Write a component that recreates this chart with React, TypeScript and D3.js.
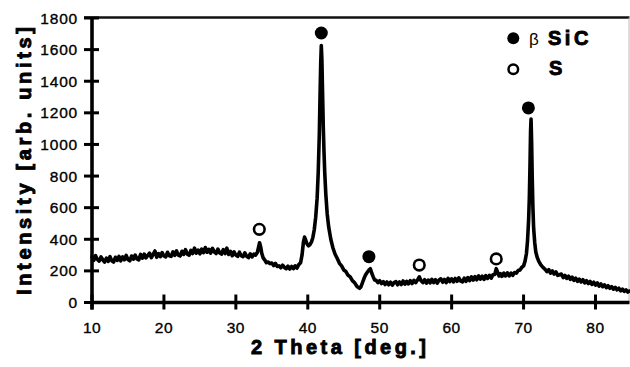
import React from "react";
import * as d3 from "d3";

// ---- data (2θ in degrees, intensity in arb. units) ----
const scanLowAngle: [number, number][] = [
  [10.0, 290], [10.25, 266], [10.5, 296], [10.75, 272], [11.0, 262], [11.25, 288], [11.5, 270], [11.75, 256],
  [12.0, 280], [12.25, 260], [12.5, 290], [12.75, 264], [13.0, 256], [13.25, 286], [13.5, 266], [13.75, 292],
  [14.0, 264], [14.25, 288], [14.5, 270], [14.75, 298], [15.0, 272], [15.25, 264], [15.5, 294], [15.75, 274],
  [16.0, 300], [16.25, 276], [16.5, 270], [16.75, 304], [17.0, 280], [17.25, 306], [17.5, 282], [17.75, 298],
  [18.0, 312], [18.25, 284], [18.5, 304], [18.75, 326], [19.0, 286], [19.25, 310], [19.5, 290], [19.75, 316],
  [20.0, 294], [20.25, 288], [20.5, 318], [20.75, 296], [21.0, 292], [21.25, 320], [21.5, 298], [21.75, 326],
  [22.0, 300], [22.25, 294], [22.5, 324], [22.75, 304], [23.0, 334], [23.25, 306], [23.5, 300], [23.75, 330],
  [24.0, 310], [24.25, 344], [24.5, 312], [24.75, 332], [25.0, 308], [25.25, 338], [25.5, 316], [25.75, 348],
  [26.0, 318], [26.25, 336], [26.5, 312], [26.75, 342], [27.0, 320], [27.25, 310], [27.5, 338], [27.75, 314],
  [28.0, 306], [28.25, 334], [28.5, 310], [28.75, 344], [29.0, 304], [29.25, 324], [29.5, 296], [29.75, 320],
  [30.0, 300], [30.25, 292], [30.5, 318], [30.75, 296], [31.0, 290], [31.25, 314], [31.5, 292], [31.75, 284],
  [32.0, 308], [32.25, 288], [32.5, 306], [32.75, 300],
];

const scanSiC111: [number, number][] = [
  [33.0, 318], [33.15, 348], [33.3, 378], [33.45, 352], [33.6, 312], [33.8, 282], [34.0, 270], [34.25, 252],
  [34.5, 256], [34.75, 246], [35.0, 250], [35.25, 234], [35.5, 248], [35.75, 228], [36.0, 232], [36.25, 220],
  [36.5, 236], [36.75, 222], [37.0, 214], [37.25, 230], [37.5, 212], [37.75, 228], [38.0, 214], [38.25, 232],
  [38.5, 218], [38.75, 240], [39.0, 252], [39.2, 300], [39.4, 384], [39.55, 414], [39.7, 396], [39.9, 370],
  [40.1, 358], [40.3, 366], [40.5, 382], [40.7, 410], [40.9, 460], [41.1, 540], [41.3, 660], [41.45, 820],
  [41.6, 1060], [41.7, 1300], [41.8, 1520], [41.88, 1625], [41.96, 1540], [42.05, 1340], [42.15, 1120],
  [42.25, 960], [42.35, 830], [42.5, 690], [42.7, 560], [42.9, 480], [43.2, 400], [43.5, 345], [43.8, 305],
  [44.1, 278], [44.4, 248], [44.7, 232], [45.0, 206], [45.3, 196], [45.6, 172], [45.9, 162], [46.2, 138],
  [46.5, 126], [46.8, 104], [47.0, 96], [47.2, 90],
];

const scanMid: [number, number][] = [
  [47.4, 100], [47.6, 125], [47.8, 150], [48.0, 172], [48.25, 190], [48.5, 205], [48.7, 214], [48.9, 185],
  [49.1, 162], [49.3, 142], [49.5, 140], [49.75, 126], [50.0, 138], [50.25, 120], [50.5, 132], [50.75, 114],
  [51.0, 130], [51.25, 112], [51.5, 128], [51.75, 110], [52.0, 126], [52.25, 132], [52.5, 112], [52.75, 130],
  [53.0, 114], [53.25, 136], [53.5, 116], [53.75, 134], [54.0, 118], [54.25, 138], [54.5, 120], [54.75, 140],
  [55.0, 126], [55.25, 142], [55.5, 162], [55.75, 138], [56.0, 126], [56.25, 144], [56.5, 122], [56.75, 142],
  [57.0, 124], [57.25, 146], [57.5, 126], [57.75, 144], [58.0, 122], [58.25, 142], [58.5, 150], [58.75, 128],
  [59.0, 146], [59.25, 126], [59.5, 152], [59.75, 132], [60.0, 150], [60.25, 130], [60.5, 152], [60.75, 134],
  [61.0, 156], [61.25, 136], [61.5, 130], [61.75, 154], [62.0, 134], [62.25, 158], [62.5, 138], [62.75, 162],
  [63.0, 142], [63.25, 164], [63.5, 144], [63.75, 168], [64.0, 148], [64.25, 166], [64.5, 146], [64.75, 170],
  [65.0, 152], [65.25, 172], [65.5, 154], [65.75, 176], [66.0, 178], [66.2, 214], [66.4, 190], [66.6, 168],
  [66.8, 182], [67.0, 166], [67.25, 186], [67.5, 168], [67.75, 188], [68.0, 168], [68.25, 186], [68.5, 172],
  [68.75, 190], [69.0, 186], [69.25, 202], [69.5, 206], [69.75, 222],
];

const scanSiC220: [number, number][] = [
  [70.0, 232], [70.2, 260], [70.4, 310], [70.55, 390], [70.7, 520], [70.8, 660], [70.9, 880], [70.97, 1080],
  [71.04, 1160], [71.12, 1020], [71.2, 800], [71.3, 600], [71.4, 470], [71.55, 380], [71.7, 320], [71.9, 285],
  [72.1, 262], [72.4, 238], [72.7, 222], [73.0, 210],
];

const scanHighAngle: [number, number][] = [
  [73.25, 196], [73.5, 208], [73.75, 186], [74.0, 200], [74.25, 180], [74.5, 194], [74.75, 172], [75.0, 176],
  [75.25, 180], [75.5, 158], [75.75, 172], [76.0, 152], [76.25, 166], [76.5, 146], [76.75, 160], [77.0, 140],
  [77.25, 154], [77.5, 134], [77.75, 148], [78.0, 130], [78.25, 144], [78.5, 124], [78.75, 138], [79.0, 120],
  [79.25, 134], [79.5, 114], [79.75, 128], [80.0, 110], [80.25, 124], [80.5, 104], [80.75, 118], [81.0, 100],
  [81.25, 112], [81.5, 94], [81.75, 106], [82.0, 90], [82.25, 100], [82.5, 84], [82.75, 96], [83.0, 80],
  [83.25, 90], [83.5, 74], [83.75, 84], [84.0, 70], [84.25, 80], [84.5, 66], [84.7, 72],
];

// peak markers: filled = β-SiC, open = S
const betaSiCMarkers: [number, number][] = [[41.88, 1705], [48.5, 290], [70.67, 1231]];
const sMarkers: [number, number][] = [[33.26, 463], [55.5, 237], [66.2, 276]];

const xTicks = [10, 20, 30, 40, 50, 60, 70, 80];
const yTicks = [0, 200, 400, 600, 800, 1000, 1200, 1400, 1600, 1800];
const xTitle = "2 Theta [deg.]";
const yTitle = "Intensity [arb. units]";
const legendLabels = ["SiC", "S"];

const W = 630;
const H = 367;
const FONT = "'Liberation Sans', Arial, Helvetica, sans-serif";

export default function App() {
  const scan = [...scanLowAngle, ...scanSiC111, ...scanMid, ...scanSiC220, ...scanHighAngle];
  const x = d3.scaleLinear().domain([10, 84.7]).range([92, 629.3]);
  const y = d3.scaleLinear().domain([0, 1800]).range([302.5, 18]);
  const line = d3
    .line<[number, number]>()
    .x((d) => x(d[0]))
    .y((d) => y(d[1]))
    .curve(d3.curveLinear);

  const x0 = x(10);
  const xEnd = 629.5;
  const yBase = y(0);
  const yTop = 17.5;

  const heavy = { stroke: "#000", strokeWidth: 0.9, paintOrder: "stroke" as const };

  return (
    <svg
      width={W}
      height={H}
      style={{ position: "absolute", left: 0, top: 0, background: "#fff" }}
    >
      <rect x={0} y={0} width={W} height={H} fill="#fff" />
      {/* frame: top + right border */}
      <line x1={84} x2={xEnd} y1={yTop} y2={yTop} stroke="#111" strokeWidth={2.5} />
      <line x1={xEnd - 0.5} x2={xEnd - 0.5} y1={yTop} y2={yBase} stroke="#bbb" strokeWidth={1} />

      {/* data */}
      <path
        d={line(scan) || ""}
        fill="none"
        stroke="#000"
        strokeWidth={3.6}
        strokeLinejoin="round"
        strokeLinecap="round"
      />

      {/* axes */}
      <line x1={x0} x2={x0} y1={yTop} y2={309.5} stroke="#000" strokeWidth={3.6} />
      <line x1={x0} x2={xEnd} y1={yBase} y2={yBase} stroke="#000" strokeWidth={3.6} />
      {yTicks.map((t) => (
        <g key={"y" + t}>
          <line x1={84} x2={99} y1={y(t)} y2={y(t)} stroke="#000" strokeWidth={3} />
          <text
            x={78}
            y={y(t)}
            dy="0.36em"
            textAnchor="end"
            fontFamily={FONT}
            fontSize={15.5}
            letterSpacing={0.8}
            stroke="#000"
            strokeWidth={0.35}
            fill="#000"
          >
            {t}
          </text>
        </g>
      ))}
      {xTicks.map((t) => (
        <g key={"x" + t}>
          <line x1={x(t)} x2={x(t)} y1={294.5} y2={309.5} stroke="#000" strokeWidth={3} />
          <text
            x={x(t)}
            y={332.5}
            textAnchor="middle"
            fontFamily={FONT}
            fontSize={15.5}
            letterSpacing={0.5}
            stroke="#000"
            strokeWidth={0.35}
            fill="#000"
          >
            {t}
          </text>
        </g>
      ))}

      {/* axis titles */}
      <text
        x={338.5}
        y={354}
        textAnchor="middle"
        fontFamily={FONT}
        fontWeight="bold"
        fontSize={20}
        textLength={175}
        lengthAdjust="spacing"
        fill="#000"
        {...heavy}
      >
        {xTitle}
      </text>
      <text
        transform={`translate(31,161) rotate(-90)`}
        textAnchor="middle"
        fontFamily={FONT}
        fontWeight="bold"
        fontSize={20}
        textLength={268}
        lengthAdjust="spacing"
        fill="#000"
        {...heavy}
      >
        {yTitle}
      </text>

      {/* peak markers */}
      {betaSiCMarkers.map((m, i) => (
        <circle key={"f" + i} cx={x(m[0])} cy={y(m[1])} r={6.5} fill="#000" />
      ))}
      {sMarkers.map((m, i) => (
        <circle
          key={"o" + i}
          cx={x(m[0])}
          cy={y(m[1])}
          r={5.3}
          fill="#fff"
          stroke="#000"
          strokeWidth={2.6}
        />
      ))}

      {/* legend */}
      <circle cx={513.3} cy={38.3} r={6} fill="#000" />
      <text x={529} y={45} fontFamily={FONT} fontSize={17} fill="#000">
        β
      </text>
      <text
        x={548}
        y={44.5}
        fontFamily={FONT}
        fontWeight="bold"
        fontSize={20}
        letterSpacing={3.5}
        fill="#000"
        {...heavy}
      >
        {legendLabels[0]}
      </text>
      <circle cx={513.3} cy={69.3} r={4.8} fill="#fff" stroke="#000" strokeWidth={2.5} />
      <text
        x={549}
        y={75.3}
        fontFamily={FONT}
        fontWeight="bold"
        fontSize={20}
        letterSpacing={3.5}
        fill="#000"
        {...heavy}
      >
        {legendLabels[1]}
      </text>
    </svg>
  );
}
